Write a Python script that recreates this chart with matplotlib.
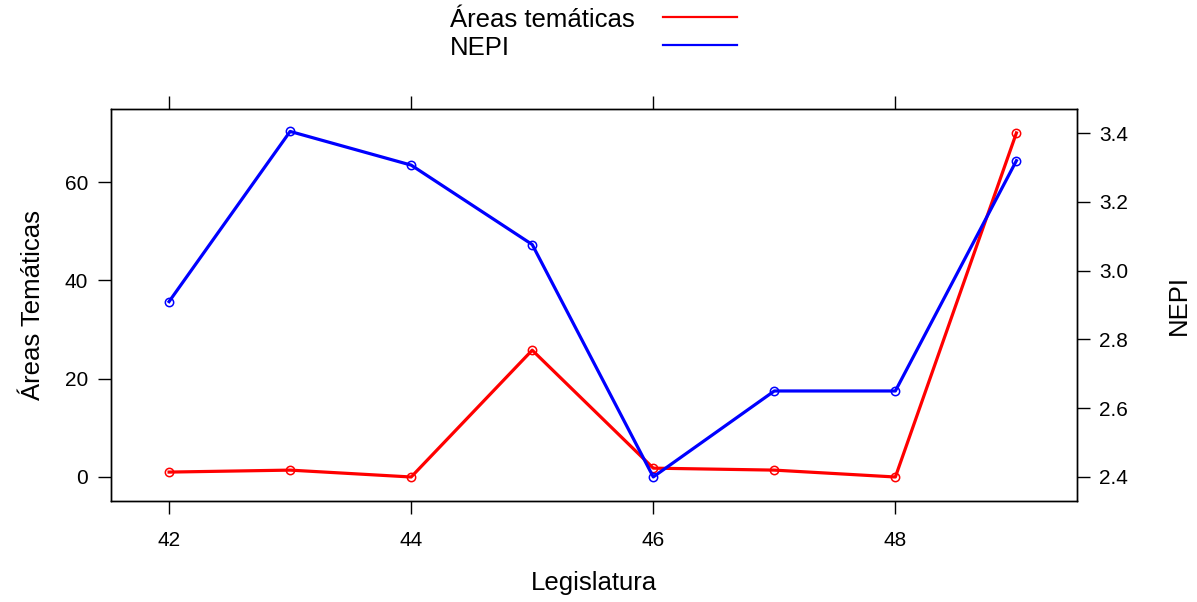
import matplotlib.pyplot as plt
from matplotlib.lines import Line2D

plt.rcParams["font.family"] = ["Liberation Sans", "DejaVu Sans"]

# dados
legislatura = [42, 43, 44, 45, 46, 47, 48, 49]
areas_tematicas = [1.0, 1.4, 0.0, 25.8, 1.8, 1.4, 0.0, 70.0]
nepi = [2.91, 3.405, 3.307, 3.076, 2.40, 2.65, 2.65, 3.32]

fig = plt.figure(figsize=(11.97, 6.02), dpi=100)
ax = fig.add_axes([0.0927, 0.1678, 0.807, 0.651])
ax2 = ax.twinx()

ax.plot(legislatura, areas_tematicas, color="red", lw=2.3,
        marker="o", ms=6, mfc="none", mec="red", mew=1.1)
ax2.plot(legislatura, nepi, color="blue", lw=2.3,
         marker="o", ms=6, mfc="none", mec="blue", mew=1.1)

ax.set_xlim(41.52, 49.5)
ax.set_ylim(-4.88, 74.85)
ax2.set_ylim(2.330, 3.470)

ax.set_xticks([42, 44, 46, 48])
ax.set_yticks([0, 20, 40, 60])
ax2.set_yticks([2.4, 2.6, 2.8, 3.0, 3.2, 3.4])
ax2.set_yticklabels(["2.4", "2.6", "2.8", "3.0", "3.2", "3.4"])

ax.tick_params(axis="x", top=True, bottom=True, direction="out", length=9.5,
               width=1, labelsize=15, pad=12)
ax.tick_params(axis="y", left=True, right=False, direction="out", length=9.5,
               width=1, labelsize=15, pad=7)
ax2.tick_params(axis="y", right=True, left=False, direction="out", length=9,
                width=1, labelsize=15, pad=7)

for a in (ax, ax2):
    for s in a.spines.values():
        s.set_linewidth(1.0)

ax.set_xlabel("Legislatura", fontsize=18.5, labelpad=15)
ax.set_ylabel("Áreas Temáticas", fontsize=18.5, labelpad=14)
ax2.set_ylabel("NEPI", fontsize=18.5, labelpad=28)

# legenda no topo (texto à esquerda, linha à direita)
leg_labels = ["Áreas temáticas", "NEPI"]
leg_colors = ["red", "blue"]
leg_y = [0.966, 0.920]
for lab, col, yy in zip(leg_labels, leg_colors, leg_y):
    fig.text(0.376, yy, lab, fontsize=18.5, ha="left", va="center")
    fig.add_artist(Line2D([0.554, 0.616], [yy + 0.005, yy + 0.005],
                          transform=fig.transFigure, color=col, lw=1.6))

fig.savefig("out.png", dpi=100)
